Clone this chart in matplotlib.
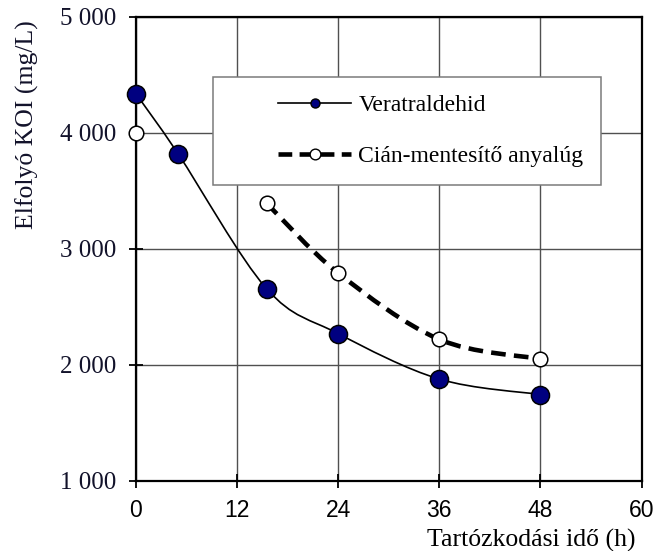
import numpy as np
import matplotlib
matplotlib.use("Agg")
import matplotlib.pyplot as plt
from matplotlib.path import Path
from matplotlib.patches import PathPatch, Rectangle
from matplotlib.lines import Line2D
from matplotlib.ticker import FuncFormatter

# ---- data ----
vera_x = [0, 5, 15.5, 24, 36, 48]
vera_y = [4335, 3818, 2655, 2268, 1876, 1743]
cian_x = [0, 15.5, 24, 36, 48]
cian_y = [4000, 3392, 2790, 2218, 2050]
x_ticks = [0, 12, 24, 36, 48, 60]
y_ticks = [1000, 2000, 3000, 4000, 5000]
label_vera = "Veratraldehid"
label_cian = "Cián-mentesítő anyalúg"
xlabel = "Tartózkodási idő (h)"
ylabel = "Elfolyó KOI (mg/L)"

SERIF = "Liberation Serif"
SANS = "Liberation Sans"
NAVY = "#000080"
TXT = "#12122a"


def smooth_path(xs, ys):
    pts = np.column_stack([xs, ys]).astype(float)
    n = len(pts)
    verts = [pts[0]]
    codes = [Path.MOVETO]
    for i in range(n - 1):
        p0 = pts[i - 1] if i > 0 else pts[i]
        p1 = pts[i]
        p2 = pts[i + 1]
        p3 = pts[i + 2] if i + 2 < n else pts[i + 1]
        c1 = p1 + (p2 - p0) / 6.0
        c2 = p2 - (p3 - p1) / 6.0
        verts += [c1, c2, p2]
        codes += [Path.CURVE4] * 3
    return Path(verts, codes)


fig = plt.figure(figsize=(6.56, 5.51), dpi=100)
ax = fig.add_axes([136 / 656, 1 - 480.7 / 551, (641.5 - 136) / 656, (480.7 - 16.7) / 551])

ax.set_xlim(0, 60)
ax.set_ylim(1000, 5000)
ax.set_xticks(x_ticks)
ax.set_yticks(y_ticks)
ax.grid(True, color="#505050", linewidth=1.0, zorder=0)
ax.set_axisbelow(True)
for s in ax.spines.values():
    s.set_linewidth(1.6)
    s.set_color("black")

ax.yaxis.set_major_formatter(FuncFormatter(lambda v, p: f"{int(v):,}".replace(",", " ")))
ax.tick_params(axis="both", direction="inout", length=10, width=1.3, color="black")
ax.tick_params(axis="y", pad=9, labelsize=18, labelcolor=TXT)
ax.tick_params(axis="x", pad=8, labelsize=16.5, labelcolor="black")
for t in ax.get_yticklabels():
    t.set_fontfamily(SERIF)
for t in ax.get_xticklabels():
    t.set_fontfamily(SANS)

# smoothed lines
ax.add_patch(PathPatch(smooth_path(vera_x, vera_y), facecolor="none", edgecolor="black",
                       linewidth=1.2, transform=ax.transData, zorder=3))
cp = PathPatch(smooth_path(cian_x[1:], cian_y[1:]), facecolor="none", edgecolor="black",
               linewidth=3.3, linestyle=(0, (3.2, 1.8)), transform=ax.transData, zorder=3)
ax.add_patch(cp)

ax.plot(vera_x, vera_y, linestyle="none", marker="o", markersize=13, markerfacecolor=NAVY,
        markeredgecolor="black", markeredgewidth=1.1, zorder=5, clip_on=False)
ax.plot(cian_x, cian_y, linestyle="none", marker="o", markersize=10.5, markerfacecolor="white",
        markeredgecolor="black", markeredgewidth=1.1, zorder=5, clip_on=False)

# legend box
x0 = (212.7 - 136) / 505.5
x1 = (601 - 136) / 505.5
y1 = (480.7 - 76.7) / 464
y0 = (480.7 - 185) / 464
ax.add_patch(Rectangle((x0, y0), x1 - x0, y1 - y0, transform=ax.transAxes, facecolor="white",
                       edgecolor="#7a7a7a", linewidth=1.1, zorder=6))
h1 = Line2D([], [], color="black", linewidth=1.2, marker="o", markersize=6.5,
            markerfacecolor=NAVY, markeredgecolor="black", markeredgewidth=1.0)
h2 = Line2D([], [], color="black", linewidth=3.3, linestyle=(0, (3.0, 1.6)), marker="o",
            markersize=7.7, markerfacecolor="white", markeredgecolor="black", markeredgewidth=1.0)
leg = ax.legend([h1, h2], [label_vera, label_cian], loc="center left",
                bbox_to_anchor=((278 - 136) / 505.5, (480.7 - 131.2) / 464),
                frameon=False, borderpad=0, borderaxespad=0, handlelength=3.1,
                handletextpad=0.3, labelspacing=1.25, prop={"family": SERIF, "size": 17})
leg.set_zorder(7)
for t in leg.get_texts():
    t.set_color("black")

fig.text(27 / 656, 1 - 125 / 551, ylabel, rotation=90, ha="center", va="center",
         fontfamily=SERIF, fontsize=18.5, color=TXT)
fig.text(531 / 656, 1 - 540 / 551, xlabel, ha="center", va="center",
         fontfamily=SERIF, fontsize=18.5, color="black")

fig.savefig("out.png", dpi=100)
